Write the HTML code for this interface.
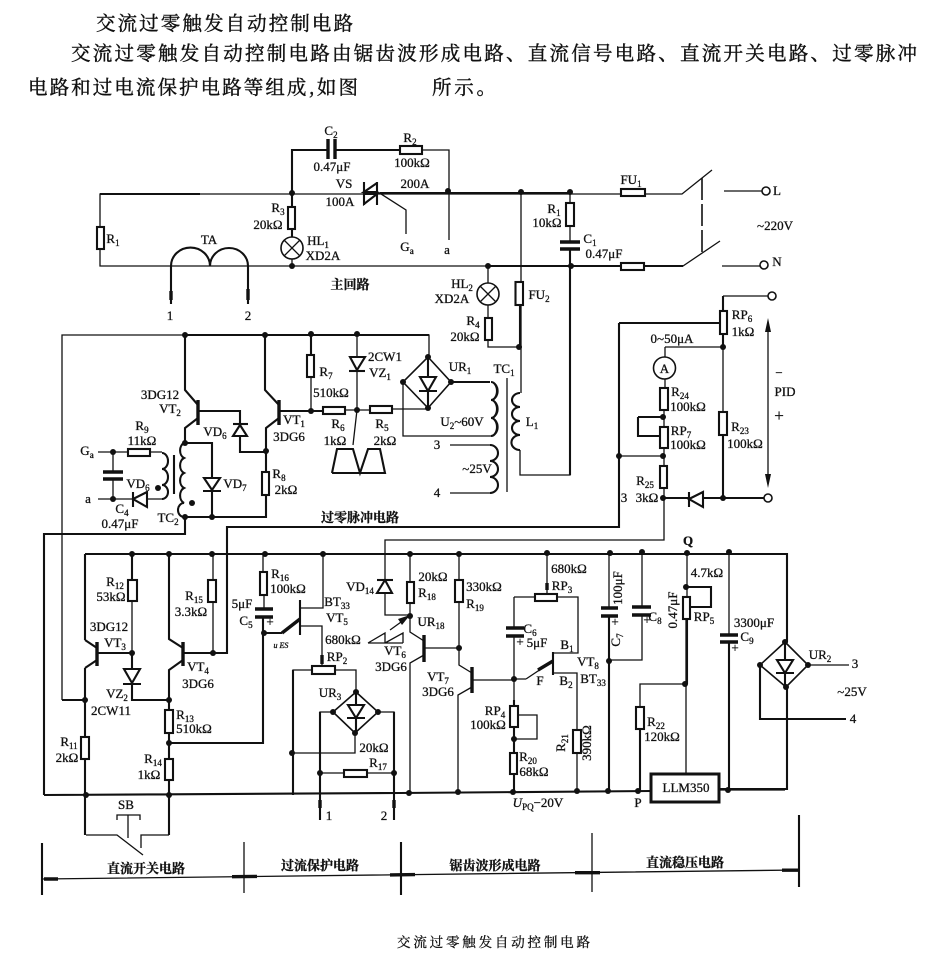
<!DOCTYPE html>
<html><head><meta charset="utf-8"><style>
html,body{margin:0;padding:0;background:#fff}
svg{display:block}
text{font-family:"Liberation Serif","Noto Serif CJK SC",serif;font-size:13px;fill:#111;text-anchor:middle;stroke:#111;stroke-width:.3}
.c{font-family:"Liberation Serif","Noto Serif CJK SC",serif;font-size:13px;font-weight:700}
.h{font-family:"Noto Serif CJK SC",serif;font-size:19.5px;text-anchor:start;stroke-width:.4}
.s{font-size:9px}
.w{fill:none;stroke:#111;stroke-width:1.3;stroke-linejoin:miter}
.t{fill:none;stroke:#111;stroke-width:2.1}
.r{fill:#fff;stroke:#111;stroke-width:2.1}
.f{fill:#111;stroke:none}
.n{fill:#fff;stroke:#111;stroke-width:1.6}
.p{fill:none;stroke:#111;stroke-width:3.4}
</style></head><body>
<svg width="937" height="957" viewBox="0 0 937 957" xmlns="http://www.w3.org/2000/svg">
<rect width="937" height="957" fill="#fff"/>
<text class="h" x="96" y="30" textLength="257">交流过零触发自动控制电路</text>
<text class="h" x="71" y="60" textLength="846">交流过零触发自动控制电路由锯齿波形成电路、直流信号电路、直流开关电路、过零脉冲</text>
<text class="h" x="28" y="94" textLength="330">电路和过电流保护电路等组成,如图</text>
<text class="h" x="432" y="94" textLength="64">所示。</text>

<!-- main circuit wires -->
<path class="w" d="M100 227V194H682L712 170M100 249V266H683L720 241M724 191H762M722 266H760"/>
<path class="t" d="M292 193V150H328M335 150H400M100 194H200M380 193H448M448 193H570M488 266H683M171 266V304M248 266V304M292 193V207M292 229V237"/>
<path class="w" d="M422 150H449V240M406 234V210L378 192M292 259V266"/>
<path class="t" stroke-dasharray="22 4" d="M702 178V252" style="stroke-width:1.6"/>
<path class="t" d="M171 266A19 18 0 0 1 210 266A19 18 0 0 1 248 266"/>
<path class="p" d="M171 291V300M248 289V300"/>
<path class="p" d="M328 139V159M335 139V159"/>
<rect class="r" x="97" y="227" width="7" height="22"/>
<rect class="r" x="400" y="146" width="22" height="8"/>
<rect class="r" x="288" y="207" width="7" height="22"/>
<circle class="n" cx="292" cy="248" r="11"/><path class="w" d="M284 240L300 256M300 240L284 256"/>
<path class="t" d="M364 182V205M377 182V205M377 183L364 192H377M364 194H377L364 204Z"/>
<path class="w" d="M521 192V282M521 305V393M520 450V475H570V266M570 192V203M570 226V242M570 249V266M488 266V283M488 305V318M488 340V347H519"/>
<path class="t" d="M570 250V266M520 305V347M570 266V475"/>
<path class="t" d="M520 393a8 7 0 0 0 0 14a8 7 0 0 0 0 14a8 7 0 0 0 0 14a8 7 0 0 0 0 15"/>
<path class="w" d="M507 378V492"/>
<path class="p" d="M560 242H580M560 249H580"/>
<rect class="r" x="566" y="203" width="8" height="23"/>
<rect class="r" x="621" y="189" width="24" height="7"/>
<rect class="r" x="621" y="263" width="23" height="7"/>
<rect class="r" x="515.5" y="282" width="7.5" height="23"/>
<rect class="r" x="485" y="318" width="7" height="22"/>
<circle class="n" cx="488" cy="294" r="11"/><path class="w" d="M480 286L496 302M496 286L480 302"/>
<circle class="n" cx="766" cy="191" r="4"/><circle class="n" cx="764" cy="265" r="4"/>

<!-- right PID section -->
<path class="w" d="M723 296H768M723 347V412M665 347H723M665 347V357M665 379V388M664 410V427M664 448V466M664 488V540H385V580M385 593V615H410M619 456H663"/>
<path class="t" d="M723 296V311M723 334V347M723 435V498M619 323H720M619 323V527H227V653H183M703 498H765M663 498H689M638 417H663M638 417V436H660"/>
<path class="w" d="M619 456V527M768 330V478"/>
<path class="f" d="M768 318L771 332H765ZM768 488L771 474H765Z"/>
<rect class="r" x="720" y="311" width="7" height="23"/>
<rect class="r" x="719" y="412" width="8" height="23"/>
<rect class="r" x="660" y="388" width="8" height="22"/>
<rect class="r" x="660" y="427" width="8" height="21"/>
<rect class="r" x="660" y="466" width="7" height="22"/>
<circle class="n" cx="664.5" cy="368" r="11"/>
<path class="t" d="M689 492V507"/><path class="r" d="M689 499L703 492V507Z"/>
<circle class="n" cx="772" cy="296" r="4"/><circle class="n" cx="768" cy="498" r="4"/>

<!-- upper middle -->
<path class="w" d="M62 700V335H429V357M311 377V411M357 334V357M357 370V410L353 445M345 410H370M392 409H428M403 382V436H475"/>
<path class="t" d="M62 700H85M185 335H429M185 335V390L198 405M198 418L185 428V443M265 335V390L279 405M279 418L266 428V472M266 495V517H184M198 411H240V425M240 436V452H266M279 411H323M311 334V355M451 382H490M403 382H403"/>
<path class="p" d="M198 400V425M279 400V425"/>
<path class="w" d="M475 436H491a7 9 0 0 0 0-18a7 9 0 0 0 0-18a7 9 0 0 0 0-18M450 445H490a8 8 0 0 1 0 16a8 8 0 0 1 0 16a8 8 0 0 1 0 16H450"/>
<path class="t" d="M491 382a6 9 0 0 1 0 18a6 9 0 0 1 0 18a6 9 0 0 1 0 18M490 445a8 8 0 0 1 0 16a8 8 0 0 1 0 16a8 8 0 0 1 0 16"/>
<path class="n" stroke-width="2" d="M428 357L451 382L428 408L403 382Z"/>
<path class="t" d="M428 357V408M419 391H437"/><path class="r" d="M420 377H436L428 391Z"/>
<path class="r" d="M350 357H365L357 370Z"/><path class="t" d="M349 371H365"/>
<path class="r" d="M233 436L240 425L247 436Z"/><path class="t" d="M233 424H248"/>
<rect class="r" x="307" y="355" width="7" height="22"/>
<rect class="r" x="323" y="407" width="22" height="7"/>
<rect class="r" x="370" y="406" width="22" height="7"/>
<rect class="r" x="262" y="472" width="7" height="23"/>
<path class="t" d="M332 473L337 449H353L360 473L368 449H380L385 473H332"/>

<!-- TC2 -->
<path class="w" d="M98 452H128M150 452H162M98 499H133M147 499H163M113 452V472M113 479V499"/>
<path class="p" d="M103 472H123M103 479H123"/>
<path class="t" d="M174 455V494M185 443H212V478M212 490V517M185 517H266"/>
<path class="t" d="M162 453a6 8 0 0 1 0 16a6 8 0 0 1 0 16a6 7 0 0 1 0 14"/>
<path class="t" d="M184 443a6 8 0 0 0 0 15a6 8 0 0 0 0 15a6 8 0 0 0 0 15a6 8 0 0 0 0 15a6 7 0 0 0 0 14"/>
<rect class="r" x="128" y="449" width="22" height="7"/>
<path class="r" d="M133 499L147 492V507Z"/><path class="t" d="M133 492V507"/>
<path class="r" d="M204 478H220L212 490Z"/><path class="t" d="M203 491H221"/>
<path class="t" d="M185 517V534H44V795"/>

<!-- lower rails -->
<path class="t" d="M85 554H787V642M44 795L400 793L651 791M787 687V789H719M760 665V719H846M85 640V554M85 668V737M85 759V835M169 554V639L183 648M183 660L169 670V710M169 733V759M169 780V835M132 554V580M132 653V669M132 683V700H169M97 653H132M97 648L85 640M97 660L85 668M169 743H263V617M264 633H282"/>
<path class="p" d="M97 642V666M183 642V666"/>
<path class="w" d="M132 601V653M213 554V580M213 602V653M263 554V572M264 595V609M282 633L300 619M323 554V608H300M300 626H322V666M312 670H293V795M335 670H356V692M333 712H320V820M378 712H394V820M355 733V753H292M320 773H344M367 773H394M86 835H117L143 855M169 835H141V848M128 815V838M117 820V815H140V820M410 554V582M410 603V632L424 641M424 655L410 663V792M459 554V580M459 602V665L472 673M472 687L458 695V792M424 648H459M472 680H514M514 597V628M514 636V706M514 727V753M514 774V792M547 553V593M535 597H514M557 597H578V653H554M526 679L553 661M514 679H526M553 673H577V730M577 753V791M518 715H537V739H514M609 553V608M609 616V791M642 552V607M642 615V660H609M687 553V597M686 619V773M686 684H640V707M640 729V791M729 552V635M729 642V790M719 790H785M808 665H849M390 630L408 617"/>
<path class="t" d="M320 712V820M394 712V820M300 600V635M553 652V675M640 729V791M609 616V791M687 619V684M729 642V790M293 670V795M686 587H711V607H690M514 700V792"/>
<path class="p" d="M424 635V662M472 667V693M320 800V808M394 800V808M547 583V590M322 655V664M282 633L300 619M538 670L553 661"/>
<path class="p" d="M255 609H273M255 617H273M506 628H524M506 636H524M601 608H618M601 616H618M632 607H651M632 615H651M720 635H738M720 642H738"/>
<rect class="r" x="128" y="580" width="9" height="21"/>
<rect class="r" x="81" y="737" width="8" height="22"/>
<rect class="r" x="165" y="710" width="8" height="23"/>
<rect class="r" x="165" y="759" width="8" height="21"/>
<rect class="r" x="208" y="580" width="8" height="22"/>
<rect class="r" x="260" y="572" width="7" height="23"/>
<rect class="r" x="312" y="666" width="23" height="8"/>
<rect class="r" x="344" y="770" width="23" height="7"/>
<rect class="r" x="407" y="582" width="7" height="21"/>
<rect class="r" x="455" y="580" width="8" height="22"/>
<rect class="r" x="535" y="594" width="22" height="7"/>
<rect class="r" x="510" y="706" width="8" height="21"/>
<rect class="r" x="510" y="753" width="7" height="21"/>
<rect class="r" x="573" y="730" width="8" height="23"/>
<rect class="r" x="683" y="597" width="7" height="22"/>
<rect class="r" x="636" y="707" width="8" height="22"/>
<rect x="651" y="774" width="68" height="28" fill="#fff" stroke="#111" stroke-width="3"/>
<path class="r" d="M124 669H140L132 683Z"/><path class="t" d="M123 684H141"/>
<path class="r" d="M377 593L385 580L392 593Z"/><path class="t" d="M377 580H393"/>
<path class="n" stroke-width="2" d="M356 692L378 712L355 733L333 712Z"/>
<path class="t" d="M356 692V733M347 718H365"/><path class="r" d="M348 705H364L356 718Z"/>
<path class="n" stroke-width="2" d="M785 642L808 665L786 687L760 665Z"/>
<path class="t" d="M785 642V687M776 673H794"/><path class="r" d="M777 660H793L785 673Z"/>
<path class="w" d="M368 643L385 633V643M385 643L403 633V643M368 643H403"/>
<path class="f" d="M410 615L398 619L402 625Z"/>

<!-- dimension lines -->
<path class="w" d="M42 879L799 870M244 842V893M592 833V892"/>
<path class="t" d="M42 843V895M401 842V895M799 815V887"/>
<path class="p" d="M44 879H58M232 876.7L257 876.4M390 874.9L415 874.6M575 872.7H600M782 870.2H799"/>

<!-- junction dots -->
<g class="f">
<circle cx="292" cy="193" r="3"/><circle cx="292" cy="266" r="3"/><circle cx="448" cy="191" r="3"/><circle cx="521" cy="192" r="3"/><circle cx="570" cy="192" r="3"/><circle cx="571" cy="266" r="3"/><circle cx="488" cy="266" r="3"/><circle cx="519" cy="347" r="3"/>
<circle cx="723" cy="347" r="3"/><circle cx="723" cy="498" r="3"/><circle cx="663" cy="498" r="3"/><circle cx="663" cy="417" r="3"/><circle cx="663" cy="456" r="3"/><circle cx="619" cy="456" r="3"/>
<circle cx="185" cy="335" r="3"/><circle cx="265" cy="335" r="3"/><circle cx="311" cy="334" r="3"/><circle cx="357" cy="334" r="3"/><circle cx="428" cy="357" r="3"/><circle cx="403" cy="382" r="3"/><circle cx="451" cy="382" r="3"/><circle cx="428" cy="408" r="3"/><circle cx="311" cy="411" r="3"/><circle cx="357" cy="410" r="3"/><circle cx="266" cy="451" r="3"/><circle cx="185" cy="443" r="3"/><circle cx="185" cy="517" r="3"/><circle cx="212" cy="517" r="3"/><circle cx="113" cy="452" r="3"/><circle cx="113" cy="499" r="3"/><circle cx="158" cy="488" r="3"/><circle cx="192" cy="503" r="3"/>
<circle cx="132" cy="554" r="3"/><circle cx="169" cy="554" r="3"/><circle cx="212" cy="554" r="3"/><circle cx="265" cy="554" r="3"/><circle cx="323" cy="554" r="3"/><circle cx="410" cy="554" r="3"/><circle cx="459" cy="554" r="3"/><circle cx="547" cy="553" r="3"/><circle cx="610" cy="553" r="3"/><circle cx="642" cy="552" r="3"/><circle cx="687" cy="553" r="3"/><circle cx="729" cy="552" r="3"/>
<circle cx="85" cy="700" r="3"/><circle cx="132" cy="653" r="3"/><circle cx="213" cy="653" r="3"/><circle cx="169" cy="700" r="3"/><circle cx="169" cy="743" r="3"/><circle cx="264" cy="633" r="3"/><circle cx="86" cy="795" r="3"/><circle cx="169" cy="795" r="3"/>
<circle cx="292" cy="753" r="3"/><circle cx="320" cy="773" r="3"/><circle cx="394" cy="773" r="3"/><circle cx="356" cy="692" r="3"/><circle cx="333" cy="712" r="3"/><circle cx="378" cy="712" r="3"/><circle cx="355" cy="733" r="3"/>
<circle cx="409" cy="793" r="3"/><circle cx="458" cy="792" r="3"/><circle cx="513" cy="792" r="3"/><circle cx="577" cy="791" r="3"/><circle cx="608" cy="791" r="3"/><circle cx="638" cy="791" r="3"/><circle cx="728" cy="790" r="3"/><circle cx="410" cy="616" r="3"/><circle cx="459" cy="648" r="3"/><circle cx="514" cy="679" r="3"/><circle cx="514" cy="739" r="3"/><circle cx="609" cy="661" r="3"/><circle cx="686" cy="587" r="3"/><circle cx="685" cy="684" r="3"/>
<circle cx="785" cy="642" r="3"/><circle cx="760" cy="665" r="3"/><circle cx="808" cy="665" r="3"/><circle cx="786" cy="687" r="3"/>
</g>

<!-- labels top -->
<text x="331" y="135">C<tspan class="s" dy="3">2</tspan></text>
<text x="332" y="171">0.47μF</text><text x="344" y="188">VS</text><text x="340" y="206">100A</text>
<text x="410" y="142">R<tspan class="s" dy="3">2</tspan></text><text x="412" y="167">100kΩ</text><text x="415" y="188">200A</text>
<text x="113" y="243">R<tspan class="s" dy="3">1</tspan></text><text x="278" y="212">R<tspan class="s" dy="3">3</tspan></text><text x="268" y="229">20kΩ</text>
<text x="209" y="244">TA</text><text x="318" y="245">HL<tspan class="s" dy="3">1</tspan></text><text x="323" y="260">XD2A</text>
<text x="407" y="251">G<tspan class="s" dy="3">a</tspan></text><text x="447" y="254">a</text>
<text x="170" y="320">1</text><text x="248" y="320">2</text>
<text class="c" x="350" y="289">主回路</text>
<text x="631" y="184">FU<tspan class="s" dy="3">1</tspan></text><text x="777" y="195">L</text><text x="777" y="266">N</text><text x="775" y="230">~220V</text>
<text x="554" y="213">R<tspan class="s" dy="3">1</tspan></text><text x="547" y="227">10kΩ</text>
<text x="590" y="243">C<tspan class="s" dy="3">1</tspan></text><text x="604" y="258">0.47μF</text>
<text x="462" y="288">HL<tspan class="s" dy="3">2</tspan></text><text x="452" y="303">XD2A</text>
<text x="539" y="299">FU<tspan class="s" dy="3">2</tspan></text><text x="473" y="325">R<tspan class="s" dy="3">4</tspan></text><text x="465" y="341">20kΩ</text>
<text x="460" y="371">UR<tspan class="s" dy="3">1</tspan></text><text x="504" y="373">TC<tspan class="s" dy="3">1</tspan></text><text x="532" y="426">L<tspan class="s" dy="3">1</tspan></text>
<text x="462" y="426">U<tspan class="s" dy="3">2</tspan><tspan dy="-3">~60V</tspan></text><text x="477" y="473">~25V</text><text x="437" y="449">3</text><text x="437" y="497">4</text>
<text x="742" y="319">RP<tspan class="s" dy="3">6</tspan></text><text x="743" y="336">1kΩ</text><text x="672" y="343">0~50μA</text>
<text x="664.5" y="373">A</text>
<text x="680" y="396">R<tspan class="s" dy="3">24</tspan></text><text x="688" y="411">100kΩ</text>
<text x="681" y="435">RP<tspan class="s" dy="3">7</tspan></text><text x="688" y="449">100kΩ</text>
<text x="740" y="431">R<tspan class="s" dy="3">23</tspan></text><text x="745" y="448">100kΩ</text>
<text x="779" y="377">−</text><text x="785" y="396">PID</text><text x="779" y="421" style="font-size:17px">+</text>
<text x="645" y="485">R<tspan class="s" dy="3">25</tspan></text><text x="624" y="502">3</text><text x="647" y="502">3kΩ</text>

<!-- labels upper middle -->
<text x="385" y="361">2CW1</text><text x="380" y="377">VZ<tspan class="s" dy="3">1</tspan></text>
<text x="326" y="376">R<tspan class="s" dy="3">7</tspan></text><text x="331" y="397">510kΩ</text>
<text x="338" y="428">R<tspan class="s" dy="3">6</tspan></text><text x="335" y="445">1kΩ</text><text x="382" y="428">R<tspan class="s" dy="3">5</tspan></text><text x="385" y="445">2kΩ</text>
<text x="160" y="399">3DG12</text><text x="170" y="413">VT<tspan class="s" dy="3">2</tspan></text>
<text x="294" y="424">VT<tspan class="s" dy="3">1</tspan></text><text x="289" y="441">3DG6</text>
<text x="279" y="478">R<tspan class="s" dy="3">8</tspan></text><text x="286" y="494">2kΩ</text><text x="215" y="436">VD<tspan class="s" dy="3">6</tspan></text><text x="235" y="488">VD<tspan class="s" dy="3">7</tspan></text>
<text x="142" y="430">R<tspan class="s" dy="3">9</tspan></text><text x="142" y="445">11kΩ</text><text x="87" y="455">G<tspan class="s" dy="3">a</tspan></text><text x="88" y="503">a</text>
<text x="138" y="488">VD<tspan class="s" dy="3">6</tspan></text><text x="122" y="513">C<tspan class="s" dy="3">4</tspan></text><text x="120" y="528">0.47μF</text><text x="168" y="522">TC<tspan class="s" dy="3">2</tspan></text>
<text class="c" x="360" y="522">过零脉冲电路</text>

<!-- labels lower -->
<text x="115" y="586">R<tspan class="s" dy="3">12</tspan></text><text x="111" y="601">53kΩ</text><text x="109" y="631">3DG12</text><text x="115" y="647">VT<tspan class="s" dy="3">3</tspan></text>
<text x="117" y="698">VZ<tspan class="s" dy="3">2</tspan></text><text x="111" y="715">2CW11</text><text x="69" y="746">R<tspan class="s" dy="3">11</tspan></text><text x="67" y="762">2kΩ</text>
<text x="198" y="671">VT<tspan class="s" dy="3">4</tspan></text><text x="198" y="688">3DG6</text><text x="194" y="600">R<tspan class="s" dy="3">15</tspan></text><text x="191" y="616">3.3kΩ</text>
<text x="185" y="719">R<tspan class="s" dy="3">13</tspan></text><text x="194" y="733">510kΩ</text><text x="153" y="763">R<tspan class="s" dy="3">14</tspan></text><text x="149" y="779">1kΩ</text>
<text x="280" y="578">R<tspan class="s" dy="3">16</tspan></text><text x="288" y="593">100kΩ</text><text x="242" y="608">5μF</text><text x="246" y="625">C<tspan class="s" dy="3">5</tspan></text><text x="270" y="626">+</text>
<text x="337" y="606">BT<tspan class="s" dy="3">33</tspan></text><text x="337" y="622">VT<tspan class="s" dy="3">5</tspan></text><text x="343" y="644">680kΩ</text><text x="337" y="661">RP<tspan class="s" dy="3">2</tspan></text>
<text x="281" y="648" style="font-size:8px;font-style:italic">u ES</text><text x="330" y="697">UR<tspan class="s" dy="3">3</tspan></text><text x="374" y="752">20kΩ</text><text x="378" y="767">R<tspan class="s" dy="3">17</tspan></text>
<text x="360" y="591">VD<tspan class="s" dy="3">14</tspan></text><text x="433" y="581">20kΩ</text><text x="427" y="597">R<tspan class="s" dy="3">18</tspan></text><text x="431" y="626">UR<tspan class="s" dy="3">18</tspan></text><text x="395" y="655">VT<tspan class="s" dy="3">6</tspan></text><text x="391" y="671">3DG6</text>
<text x="126" y="809">SB</text><text x="329" y="820">1</text><text x="384" y="820">2</text>
<text x="569" y="573">680kΩ</text><text x="562" y="590">RP<tspan class="s" dy="3">3</tspan></text><text x="484" y="591">330kΩ</text><text x="475" y="608">R<tspan class="s" dy="3">19</tspan></text>
<text x="530" y="633">C<tspan class="s" dy="3">6</tspan></text><text x="520" y="646">+</text><text x="537" y="647">5μF</text><text x="567" y="649">B<tspan class="s" dy="3">1</tspan></text><text x="588" y="666">VT<tspan class="s" dy="3">8</tspan></text><text x="593" y="683">BT<tspan class="s" dy="3">33</tspan></text><text x="566" y="685">B<tspan class="s" dy="3">2</tspan></text><text x="540" y="685">F</text>
<text x="438" y="681">VT<tspan class="s" dy="3">7</tspan></text><text x="438" y="696">3DG6</text><text x="495" y="715">RP<tspan class="s" dy="3">4</tspan></text><text x="488" y="729">100kΩ</text><text x="528" y="761">R<tspan class="s" dy="3">20</tspan></text><text x="534" y="776">68kΩ</text>
<text transform="translate(565 743) rotate(-90)">R<tspan class="s" dy="3">21</tspan></text><text transform="translate(591 743) rotate(-90)">390kΩ</text>
<text x="538" y="807"><tspan font-style="italic">U</tspan><tspan class="s" dy="3">PQ</tspan><tspan dy="-3">−20V</tspan></text><text x="638" y="807">P</text>
<text transform="translate(620 640) rotate(-90)">C<tspan class="s" dy="3">7</tspan></text><text transform="translate(622 588) rotate(-90)">100μF</text><text x="615" y="626">+</text><text x="647" y="624">+</text><text x="655" y="621">C<tspan class="s" dy="3">8</tspan></text>
<text x="688" y="545" style="font-weight:700">Q</text><text x="707" y="577">4.7kΩ</text><text transform="translate(677 610) rotate(-90)">0.47μF</text><text x="704" y="621">RP<tspan class="s" dy="3">5</tspan></text>
<text x="754" y="627">3300μF</text><text x="747" y="641">C<tspan class="s" dy="3">9</tspan></text><text x="735" y="652">+</text><text x="820" y="659">UR<tspan class="s" dy="3">2</tspan></text><text x="855" y="668">3</text><text x="852" y="696">~25V</text><text x="853" y="723">4</text>
<text x="656" y="726">R<tspan class="s" dy="3">22</tspan></text><text x="662" y="741">120kΩ</text><text x="686" y="792">LLM350</text>
<text class="c" x="146" y="873">直流开关电路</text><text class="c" x="320" y="870">过流保护电路</text><text class="c" x="495" y="870">锯齿波形成电路</text><text class="c" x="685" y="867">直流稳压电路</text>
<text x="397" y="947" style="text-anchor:start;font-size:13.5px" textLength="193">交流过零触发自动控制电路</text>
</svg>
</body></html>
